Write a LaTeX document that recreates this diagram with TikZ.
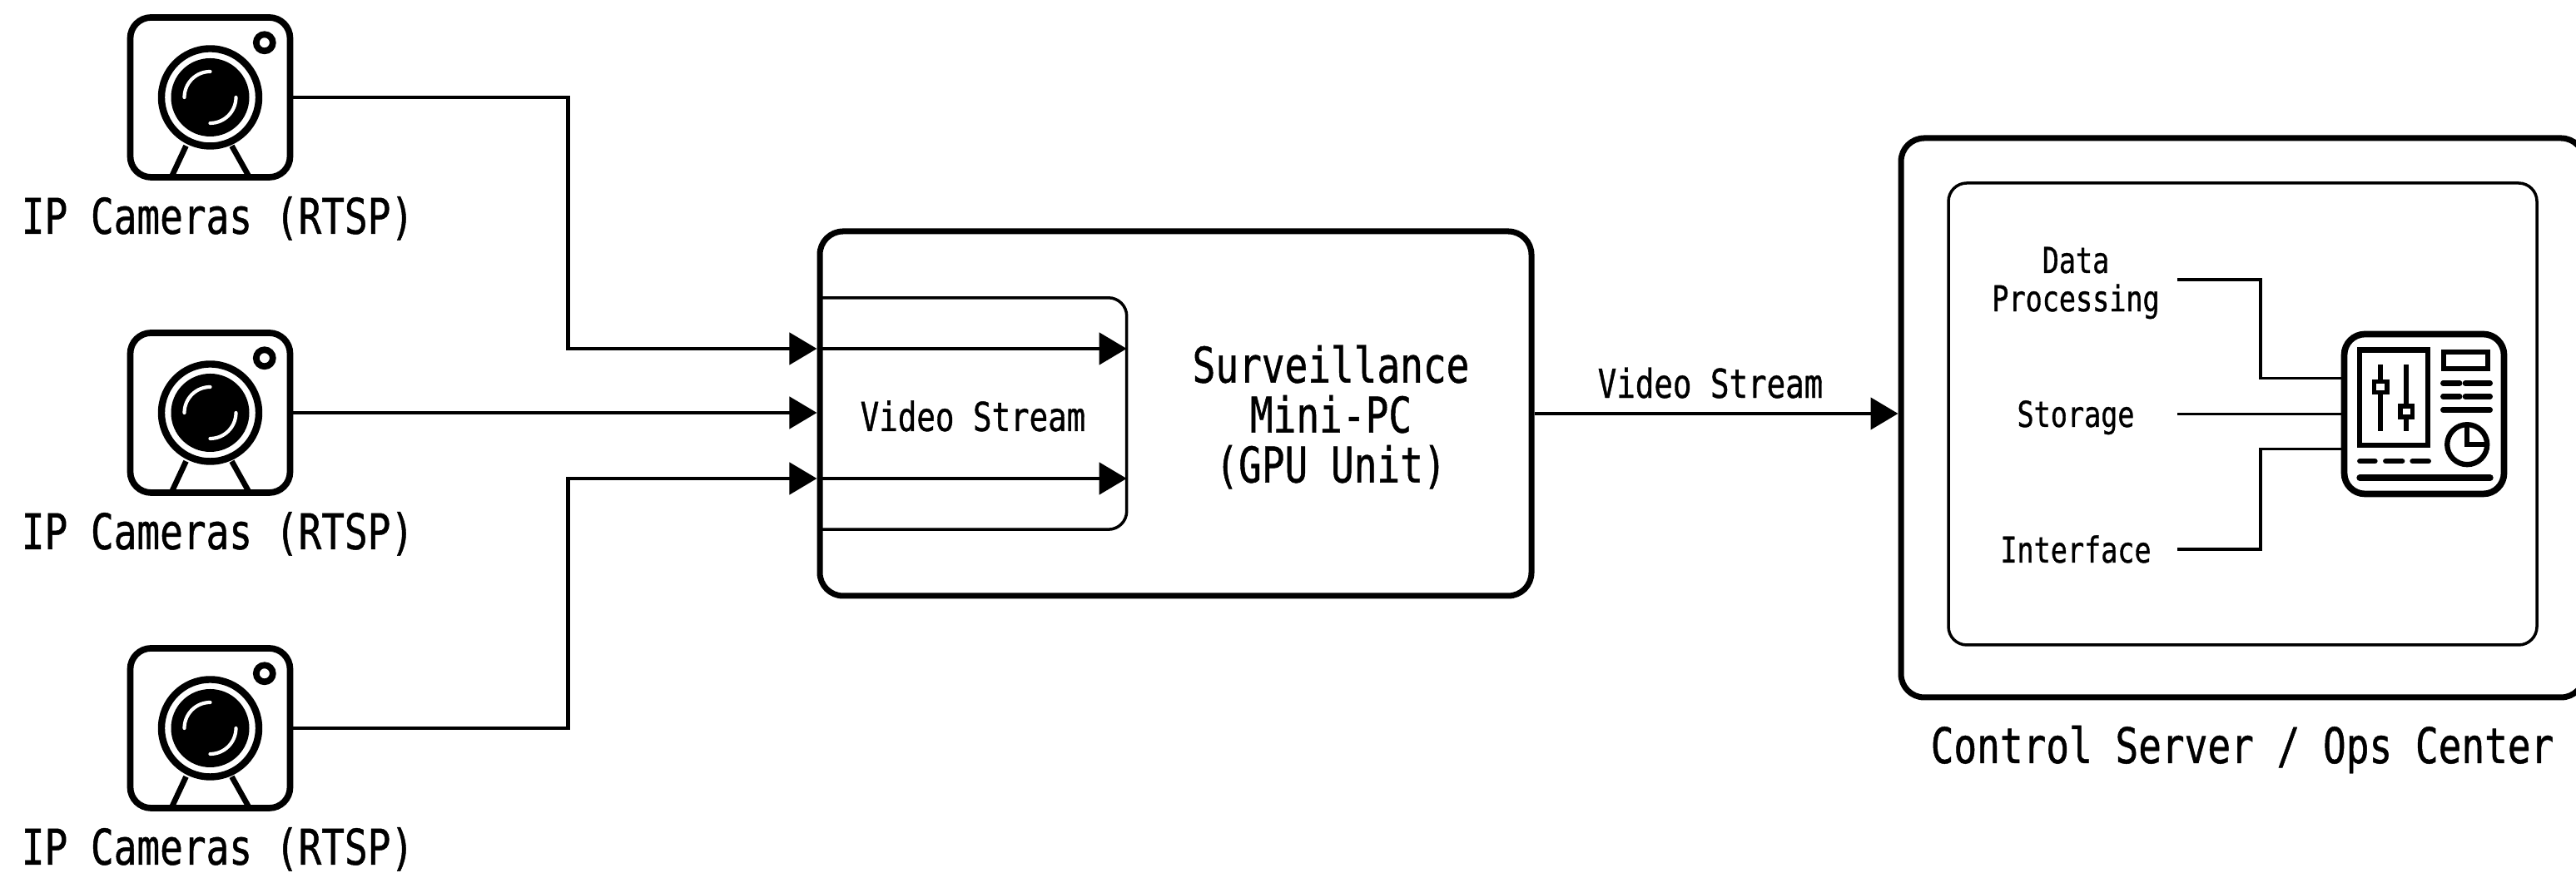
\documentclass[tikz,border=0pt]{standalone}
\usepackage{fontspec}
\newfontfamily\labelfont[FakeStretch=0.78,FakeBold=0.8]{DejaVu Sans Mono}
\usetikzlibrary{arrows.meta}
\tikzset{
  heavybox/.style={draw,line width=2pt,rounded corners=.28cm,inner sep=0pt},
  thinbox/.style={line width=1pt,rounded corners=.22cm},
  iconbox/.style={draw,line width=2.2pt,rounded corners=.25cm,minimum size=1.92cm,inner sep=0pt},
  flow/.style={line width=1.3pt,-{Triangle[length=.33cm,width=.38cm]}},
  link/.style={line width=1pt},
  iconline/.style={line width=1.8pt},
  biglabel/.style={font=\labelfont\fontsize{16.8}{17.07}\selectfont,align=center,inner sep=0pt},
  midlabel/.style={font=\labelfont\fontsize{13.66}{15}\selectfont,align=center,inner sep=0pt},
  smalllabel/.style={font=\labelfont\fontsize{12.2}{13.1}\selectfont,align=center,inner sep=0pt},
}
\begin{document}
\begin{tikzpicture}
  \useasboundingbox (0,0) rectangle (30.95,10.49);

  \node[heavybox,minimum width=8.55cm,minimum height=4.38cm] (main) at (14.125,5.52) {};
  \node[heavybox,minimum width=8.21cm,minimum height=6.72cm] (control) at (26.945,5.47) {};
  \node[draw,thinbox,minimum width=7.07cm,minimum height=5.55cm] (server) at (26.945,5.515) {};
  \node[biglabel,anchor=base] (controllabel) at (26.94,1.32) {Control Server / Ops Center};

  \node[biglabel] (mainlabel) at (15.99,5.48) {Surveillance\\Mini-PC\\(GPU Unit)};

  \node[midlabel,minimum width=3.68cm,minimum height=2.77cm] (stream) at (11.69,5.52) {};
  \node[midlabel] (streamlabel) at (11.69,5.49) {Video Stream};
  \draw[thinbox] (stream.north west) -- (stream.north east) -- (stream.south east) -- (stream.south west);

  \foreach[evaluate={9.32-(\i-1)*3.79} as \y] \i in {1,2,3} {
    \node[iconbox] (cam\i) at (2.525,\y) {};
    \node[biglabel,anchor=base] (camlabel\i) at ([xshift=.09cm,yshift=-.64cm]cam\i.south) {IP Cameras (RTSP)};
    \begin{scope}[shift={(cam\i.center)}]
      \draw[line width=2.4pt] (0,0) circle (.585);
      \fill (0,0) circle (.47);
      \draw[white,line width=1.2pt,line cap=round] (0,.31) arc (90:180:.31);
      \draw[white,line width=1.2pt,line cap=round] (0,-.31) arc (270:360:.31);
      \draw[line width=2.2pt] (.653,.657) circle (.1);
      \draw[line width=1.9pt] (-.29,-.583) -- (-.457,-.94);
      \draw[line width=1.9pt] (.26,-.583) -- (.46,-.94);
    \end{scope}
  }

  \coordinate (in1) at ([yshift=.78cm]main.west);
  \coordinate (in2) at (main.west);
  \coordinate (in3) at ([yshift=-.78cm]main.west);
  \draw[flow] (cam1.east) -- ++(3.3,0) |- (in1);
  \draw[flow] (cam2.east) -- (cam2.east -| in2);
  \draw[flow] (cam3.east) -- ++(3.3,0) |- (in3);
  \draw[flow] (in1) -- (in1 -| stream.east);
  \draw[flow] (in3) -- (in3 -| stream.east);

  \draw[flow] (main.east) -- (main.east -| control.west) node[midway,above=.16cm,xshift=-.07cm,midlabel] (outlabel) {Video Stream};

  \node[iconbox] (dash) at (29.125,5.515) {};
  \begin{scope}[shift={(dash.center)}]
    \draw[iconline] (-.773,-.373) rectangle (.043,.77);
    \draw[iconline] (-.523,.593) -- (-.523,-.207);
    \draw[iconline] (-.217,.593) -- (-.217,-.207);
    \draw[line width=1.5pt,fill=white] (-.6,.26) rectangle (-.446,.387);
    \draw[line width=1.5pt,fill=white] (-.285,-.034) rectangle (-.139,.094);
    \draw[iconline] (.237,.543) rectangle (.767,.743);
    \draw[iconline,line cap=round] (.227,.37) -- (.427,.37);
    \draw[iconline,line cap=round] (.493,.37) -- (.793,.37);
    \draw[iconline,line cap=round] (.227,.21) -- (.427,.21);
    \draw[iconline,line cap=round] (.493,.21) -- (.793,.21);
    \draw[iconline,line cap=round] (.227,.05) -- (.793,.05);
    \draw[iconline] (.517,-.367) circle (.24);
    \draw[iconline] (.517,-.157) -- (.517,-.367) -- (.743,-.367);
    \draw[iconline,line cap=round] (-.773,-.567) -- (-.59,-.567);
    \draw[iconline,line cap=round] (-.463,-.567) -- (-.263,-.567);
    \draw[iconline,line cap=round] (-.14,-.567) -- (.053,-.567);
    \draw[line width=2.2pt,line cap=round] (-.773,-.767) -- (.793,-.767);
  \end{scope}

  \node[smalllabel] (datalabel) at (24.94,7.09) {Data\\Processing};
  \node[smalllabel,anchor=base] (storelabel) at (24.94,5.36) {Storage};
  \node[smalllabel,anchor=base] (facelabel) at (24.94,3.73) {Interface};

  \coordinate (dp) at (26.16,7.13);
  \coordinate (st) at (26.16,5.515);
  \coordinate (fc) at (26.16,3.89);
  \draw[link] (dp) -- ++(1,0) |- ([yshift=.43cm]dash.west);
  \draw[link] (st) -- (dash.west);
  \draw[link] (fc) -- ++(1,0) |- ([yshift=-.42cm]dash.west);
\end{tikzpicture}
\end{document}
